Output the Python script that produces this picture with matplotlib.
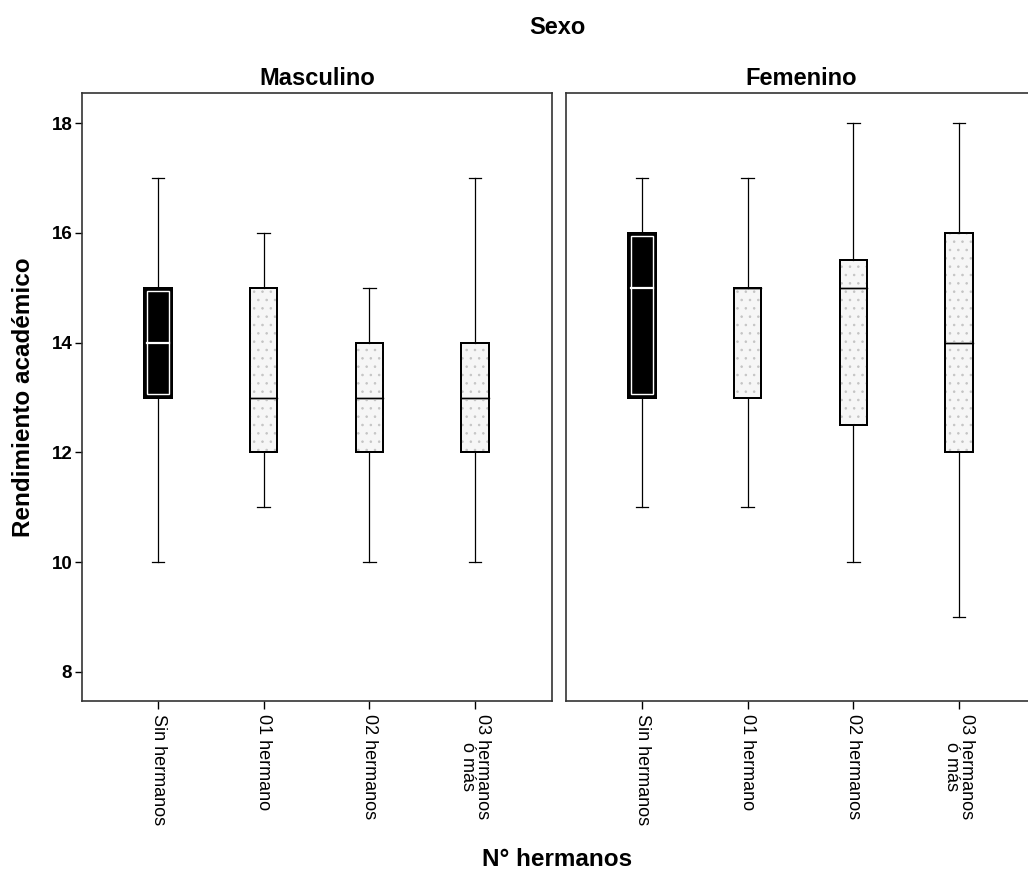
import matplotlib
matplotlib.use("Agg")
import matplotlib.pyplot as plt
from matplotlib.patches import Rectangle

plt.rcParams['font.family'] = ['Liberation Sans', 'DejaVu Sans']
plt.rcParams['hatch.linewidth'] = 0.6

# Datos
categorias = ["Sin hermanos", "01 hermano", "02 hermanos", "03 hermanos\nó más"]
paneles = ["Masculino", "Femenino"]

# whislo, q1, med, q3, whishi
masc_min = [10, 11, 10, 10]
masc_q1 = [13, 12, 12, 12]
masc_med = [14, 13, 13, 13]
masc_q3 = [15, 15, 14, 14]
masc_max = [17, 16, 15, 17]

fem_min = [11, 11, 10, 9]
fem_q1 = [13, 13, 12.5, 12]
fem_med = [15, 15, 15, 14]
fem_q3 = [16, 15, 15.5, 16]
fem_max = [17, 17, 18, 18]

yticks = [8, 10, 12, 14, 16, 18]

W, H = 1028, 875
fig = plt.figure(figsize=(W / 100, H / 100), dpi=100)
fig.patch.set_facecolor('white')

ax_m = fig.add_axes([82 / W, (H - 701) / H, 470 / W, 608 / H])
ax_f = fig.add_axes([566 / W, (H - 701) / H, 470 / W, 608 / H])

datos = [
    (masc_min, masc_q1, masc_med, masc_q3, masc_max),
    (fem_min, fem_q1, fem_med, fem_q3, fem_max),
]

ancho = 0.26
pos = [1, 2, 3, 4]

for ax, nombre, (mn, q1, md, q3, mx) in zip([ax_m, ax_f], paneles, datos):
    stats = []
    for i in range(4):
        stats.append(dict(whislo=mn[i], q1=q1[i], med=md[i], q3=q3[i],
                          whishi=mx[i], fliers=[], label=categorias[i]))
    ax.bxp(stats, positions=pos, widths=ancho, showfliers=False,
           patch_artist=True, capwidths=0.12,
           boxprops=dict(facecolor='#f6f6f6', edgecolor='black', linewidth=1.4),
           medianprops=dict(color='black', linewidth=1.0),
           whiskerprops=dict(color='black', linewidth=0.9),
           capprops=dict(color='black', linewidth=0.9))

    # textura punteada de las cajas grises
    for i in range(1, 4):
        ax.add_patch(Rectangle((pos[i] - ancho / 2, q1[i]), ancho, q3[i] - q1[i],
                               facecolor='none', edgecolor='#c4c4c4', hatch='..',
                               linewidth=0, zorder=2.5))

    # caja negra "Sin hermanos" con borde interior blanco
    ax.add_patch(Rectangle((pos[0] - ancho / 2, q1[0]), ancho, q3[0] - q1[0],
                           facecolor='black', edgecolor='black', linewidth=1.4, zorder=3))
    d = 0.025
    ax.add_patch(Rectangle((pos[0] - ancho / 2 + d, q1[0] + 0.06), ancho - 2 * d,
                           q3[0] - q1[0] - 0.12, facecolor='none', edgecolor='white',
                           linewidth=1.0, zorder=3.5))
    ax.plot([pos[0] - ancho / 2 + d, pos[0] + ancho / 2 - d], [md[0], md[0]],
            color='white', linewidth=1.6, zorder=4)

    # redibujar bordes de cajas grises encima de la textura
    for i in range(1, 4):
        ax.add_patch(Rectangle((pos[i] - ancho / 2, q1[i]), ancho, q3[i] - q1[i],
                               facecolor='none', edgecolor='black', linewidth=1.4, zorder=3))
        ax.plot([pos[i] - ancho / 2, pos[i] + ancho / 2], [md[i], md[i]],
                color='black', linewidth=1.0, zorder=3.2)

    ax.set_ylim(7.47, 18.55)
    ax.set_xlim(0.28, 4.73)
    ax.set_xticks(pos)
    ax.set_xticklabels(categorias, rotation=270, fontsize=13, va='top', ha='center',
                       linespacing=0.8)
    ax.tick_params(axis='x', length=6, width=1, pad=3)
    ax.set_title(nombre, fontsize=17, fontweight='bold', pad=6)
    for s in ax.spines.values():
        s.set_linewidth(1.2)
        s.set_color('#333333')
    ax.set_facecolor('white')

ax_m.set_yticks(yticks)
ax_m.set_yticklabels([str(v) for v in yticks], fontsize=13.5, fontweight='bold')
ax_m.tick_params(axis='y', length=5, width=1, pad=2)
ax_f.set_yticks([])
ax_f.spines['right'].set_visible(False)

ax_m.set_ylabel("Rendimiento académico", fontsize=17.5, fontweight='bold', labelpad=12)

fig.text(557 / W, 1 - 28 / H, "Sexo", ha='center', va='center', fontsize=17,
         fontweight='bold')
fig.text(557 / W, 1 - 860 / H, "N° hermanos", ha='center', va='center', fontsize=17.5,
         fontweight='bold')

fig.savefig("out.png", dpi=100, facecolor='white')
